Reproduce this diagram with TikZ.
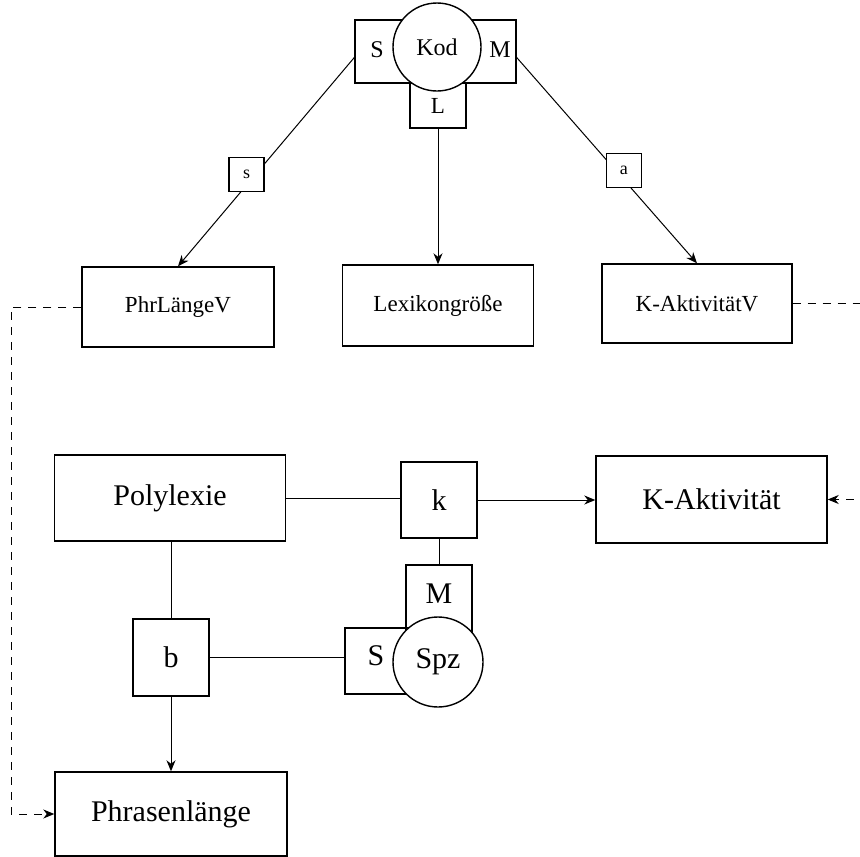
\documentclass[tikz,border=0pt]{standalone}
\usepackage{fontspec}
\setmainfont{Liberation Serif}
\usetikzlibrary{arrows.meta, calc}

\begin{document}
\begin{tikzpicture}[x=1pt, y=-1pt, line width=1pt,
    big/.style={draw, line width=1.4pt, font=\fontsize{30}{34}\selectfont},
    small/.style={draw, line width=1.4pt, font=\fontsize{23}{27}\selectfont},
    tag/.style={draw, fill=white, line width=1.2pt, minimum width=35pt, minimum height=34pt, inner sep=0pt, font=\fontsize{18}{20}\selectfont},
    arr/.style={-{Stealth[length=11pt, width=9pt, inset=3.5pt]}},
    dsh/.style={dash pattern=on 8pt off 7pt}]
    \useasboundingbox (0,0) rectangle (860,857);

    % Kodierung oben
    \node[small, minimum width=56pt, minimum height=45pt] (kodL) at (438,105.5) {L};
    \node[small, minimum width=82pt, minimum height=63pt] (kodS) at (396,51.5) {};
    \node[small, minimum width=79pt, minimum height=63pt] (kodM) at (476.5,51.5) {};
    \node[small, circle, fill=white, minimum size=88pt, inner sep=0pt, font=\fontsize{24}{28}\selectfont] (kod) at (437,47) {Kod};
    \node[font=\fontsize{24}{28}\selectfont] (kodStxt) at (377,50) {S};
    \node[font=\fontsize{24}{28}\selectfont] (kodMtxt) at (500,50) {M};

    % Variablen
    \node[small, minimum width=192pt, minimum height=80pt] (phrV) at (178,307) {PhrLängeV};
    \node[small, minimum width=191pt, minimum height=81pt] (lex) at (438,305.5) {Lexikongröße};
    \node[small, minimum width=190pt, minimum height=79pt] (kaktV) at (697,303.5) {K-AktivitätV};

    \draw[arr] ($(kodS.west)+(0,6)$) -- node[tag, pos=0.56, xshift=-9pt] (s) {s} (phrV.north);
    \draw[arr] (kodL.south) -- (lex.north);
    \draw[arr] ($(kodM.east)+(0,6)$) -- node[tag, pos=0.55, xshift=8pt] (a) {a} (kaktV.north);

    % unterer Teil
    \node[big, minimum width=231pt, minimum height=86pt] (poly) at (170,498) {Polylexie};
    \node[big, minimum width=76pt, minimum height=76pt] (k) at (439,500) {k};
    \node[big, minimum width=231pt, minimum height=87pt] (kakt) at (711.5,499.5) {K-Aktivität};
    \node[big, minimum width=76pt, minimum height=77pt] (b) at (171,657.5) {b};
    \node[big, minimum width=232pt, minimum height=84pt] (phr) at (171,814) {Phrasenlänge};

    % Spezifikation
    \node[big, minimum width=66pt, minimum height=75pt] (spzM) at (439,602.5) {};
    \node[big, minimum width=95pt, minimum height=66pt] (spzS) at (392.5,661) {};
    \node[big, circle, fill=white, minimum size=90pt, inner sep=0pt] (spz) at (438,662) {Spz};
    \node[font=\fontsize{30}{34}\selectfont] (spzMtxt) at (439,594) {M};
    \node[font=\fontsize{30}{34}\selectfont] (spzStxt) at (376,656) {S};

    \draw (poly.east) -- (poly.east -| k.west);
    \draw[arr] (k.east) -- (k.east -| kakt.west);
    \draw (k.south) -- (spzM.north);
    \draw (b.north |- poly.south) -- (b.north);
    \draw (b.east) -- (b.east -| spzS.west);
    \draw[arr] (b.south) -- (phr.north);

    % gestrichelte Rueckfuehrungen
    \draw[dsh, arr] (phrV.west) -- ++(-70,0) |- (phr.west);
    \draw[dsh, arr] (kaktV.east) -- ++(75,0) |- (kakt.east);
\end{tikzpicture}
\end{document}
